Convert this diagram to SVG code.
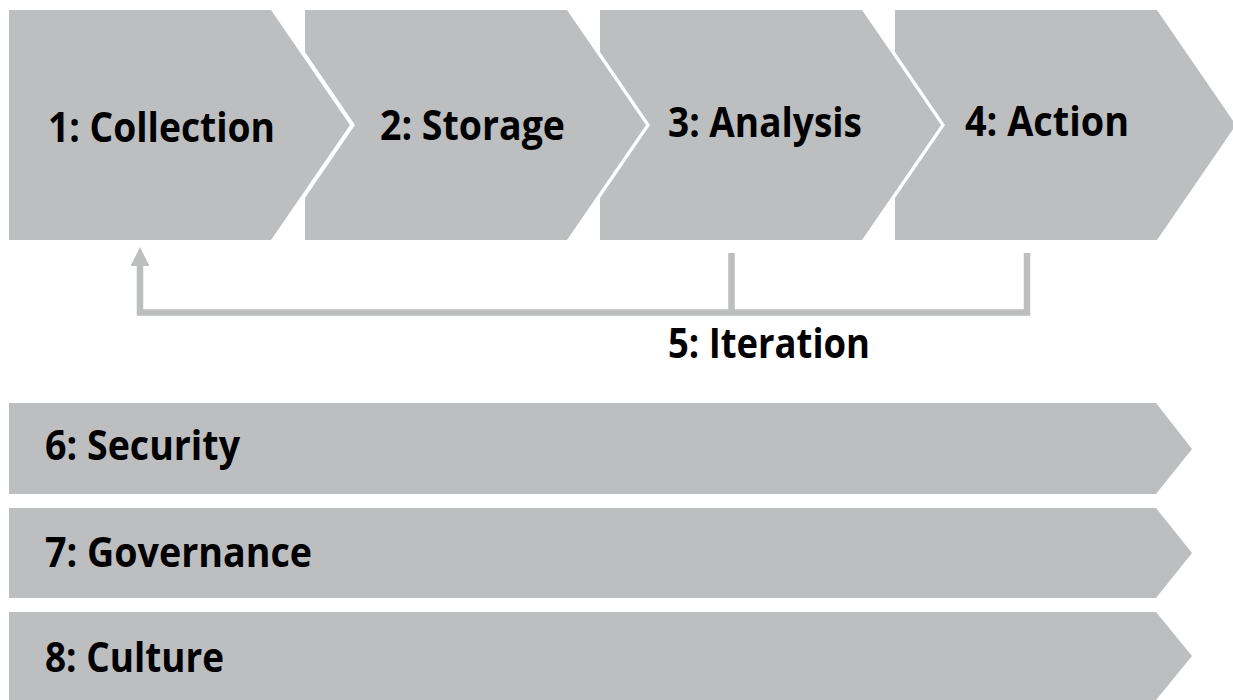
<svg xmlns="http://www.w3.org/2000/svg" width="1233" height="700" viewBox="0 0 1233 700">
  <style>
    .shape { fill: #bcbec0; }
    .lbl { font-family: "Open Sans", "Liberation Sans", sans-serif; font-weight: 700; font-size: 41px; fill: #000; }
    .conn { fill: none; stroke: #bcbec0; stroke-width: 6.5; stroke-linejoin: miter; stroke-linecap: butt; }
    .head { fill: #bcbec0; }
  </style>
  <rect width="1233" height="700" fill="#ffffff"/>

  <g id="node-collection">
    <polygon class="shape" points="9,10 271,10 350,125 271,240 9,240"/>
    <text class="lbl" x="48" y="142" textLength="227" lengthAdjust="spacingAndGlyphs">1: Collection</text>
  </g>
  <g id="node-storage">
    <polygon class="shape" points="305,10 567,10 646,125 567,240 305,240 305,198 355,125 305,52"/>
    <text class="lbl" x="380" y="140" textLength="185" lengthAdjust="spacingAndGlyphs">2: Storage</text>
  </g>
  <g id="node-analysis">
    <polygon class="shape" points="600,10 862,10 941,125 862,240 600,240 600,198 650,125 600,52"/>
    <text class="lbl" x="668" y="137" textLength="194" lengthAdjust="spacingAndGlyphs">3: Analysis</text>
  </g>
  <g id="node-action">
    <polygon class="shape" points="895,10 1157,10 1236,125 1157,240 895,240 895,198 945,125 895,52"/>
    <text class="lbl" x="965" y="136" textLength="164" lengthAdjust="spacingAndGlyphs">4: Action</text>
  </g>

  <g id="connectors">
    <path class="conn" d="M1027,253 V312.5 H140 V264"/>
    <path class="conn" d="M731.5,253 V312.5"/>
    <polygon class="head" points="140,247 149.5,266 130.5,266"/>
  </g>

  <g id="node-iteration">
    <text class="lbl" x="668" y="358" textLength="202" lengthAdjust="spacingAndGlyphs">5: Iteration</text>
  </g>

  <g id="node-security">
    <polygon class="shape" points="9,403 1156,403 1192,449 1156,494 9,494"/>
    <text class="lbl" x="45" y="460" textLength="195" lengthAdjust="spacingAndGlyphs">6: Security</text>
  </g>
  <g id="node-governance">
    <polygon class="shape" points="9,508 1156,508 1192,553 1156,598 9,598"/>
    <text class="lbl" x="45" y="567" textLength="267" lengthAdjust="spacingAndGlyphs">7: Governance</text>
  </g>
  <g id="node-culture">
    <polygon class="shape" points="9,612 1156,612 1192,656 1156,700 9,700"/>
    <text class="lbl" x="45" y="672" textLength="179" lengthAdjust="spacingAndGlyphs">8: Culture</text>
  </g>
</svg>
